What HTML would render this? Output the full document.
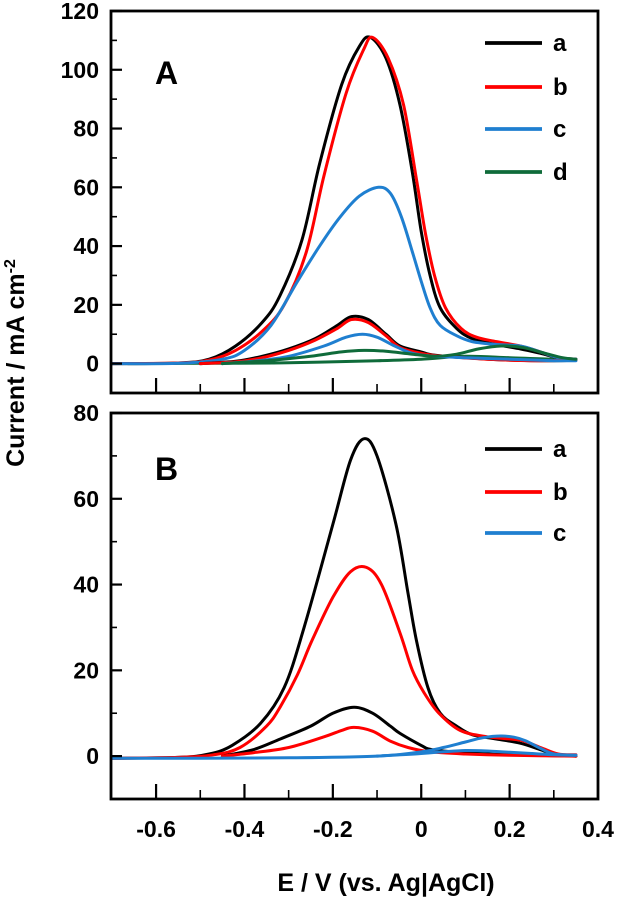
<!DOCTYPE html>
<html><head><meta charset="utf-8"><style>
html,body{margin:0;padding:0;background:#fff;}
svg{display:block;font-family:"Liberation Sans",Arial,sans-serif;font-weight:bold;}
</style></head><body>
<svg id="chart" width="618" height="897" viewBox="0 0 618 897" xmlns="http://www.w3.org/2000/svg"></svg>
<script>
// ---- data ----
const xTicksMajor = [-0.6,-0.4,-0.2,0,0.2];
const xTickLabels = ["-0.6","-0.4","-0.2","0","0.2","0.4"];
const xTickLabelValues = [-0.6,-0.4,-0.2,0,0.2,0.4];
const xTicksMinor = [-0.5,-0.3,-0.1,0.1,0.3];
const yTicksA = [0,20,40,60,80,100,120];
const yMinorA = [10,30,50,70,90,110];
const yTicksB = [0,20,40,60,80];
const yMinorB = [10,30,50,70];

// Panel A series (E in V, I in mA cm-2)
const aBigE = [-0.70,-0.55,-0.48,-0.42,-0.36,-0.32,-0.27,-0.23,-0.18,-0.14,-0.115,-0.08,-0.048,-0.02,0.0,0.02,0.043,0.08,0.115,0.17,0.224,0.27,0.31,0.35];
const aBigI = [0,0.2,1.5,6,14,23,42,68,95,108,111,104,88,65,45,30,19,12,8.5,6.5,5,3.5,2,1.5];
const aSmallE = [-0.50,-0.42,-0.36,-0.3,-0.24,-0.19,-0.158,-0.12,-0.08,-0.048,0.0,0.025,0.1,0.2,0.3,0.35];
const aSmallI = [0,0.8,2.5,5,8.5,13,16,15,10,6,4,3,2,1.2,1,1.2];
const bBigE = [-0.70,-0.55,-0.48,-0.42,-0.36,-0.31,-0.26,-0.22,-0.17,-0.13,-0.11,-0.075,-0.04,-0.01,0.01,0.03,0.055,0.09,0.125,0.17,0.224,0.27,0.31,0.35];
const bBigI = [0,0.2,1.2,4.5,11,20,38,64,92,107,111,104,88,62,44,30,19,12,9,7.5,6,4,2,1.5];
const bSmallE = [-0.50,-0.42,-0.36,-0.3,-0.24,-0.19,-0.158,-0.12,-0.08,-0.048,0.0,0.05,0.15,0.25,0.35];
const bSmallI = [0,0.6,2,4.5,8,12,15,14,9.5,5.5,3.5,2.5,1.5,1,1.2];
const cBigE = [-0.70,-0.55,-0.45,-0.40,-0.34,-0.28,-0.23,-0.183,-0.14,-0.097,-0.07,-0.045,-0.02,0.0,0.02,0.043,0.08,0.115,0.17,0.224,0.27,0.31,0.35];
const cBigI = [0,0.1,1.5,4.5,13,28,40,50,57,60,58,50,38,28,19,13,9.5,7.5,6.5,6,4,2,1.5];
const cSmallE = [-0.45,-0.38,-0.3,-0.22,-0.17,-0.133,-0.1,-0.06,-0.02,0.03,0.1,0.2,0.3,0.35];
const cSmallI = [0,0.8,2.5,6,9,10,9,6,3.5,2.5,2,1.5,1,1];
const dLoopE = [-0.45,-0.35,-0.25,-0.18,-0.13,-0.08,-0.02,0.034,0.08,0.13,0.18,0.23,0.28,0.32,0.35];
const dLoopI = [0,1,2.5,4,4.5,4.2,3.2,2.5,3.2,5,6,5.5,3.5,2,1.5];
const dBaseE = [-0.70,-0.5,-0.3,-0.1,0.0,0.1,0.2,0.3,0.35];
const dBaseI = [0,0.1,0.3,1,1.5,2.5,2,1.5,1.5];

// Panel B series
const baBigE = [-0.70,-0.55,-0.48,-0.428,-0.364,-0.31,-0.265,-0.2,-0.16,-0.129,-0.1,-0.057,-0.03,-0.011,0.015,0.043,0.08,0.115,0.17,0.224,0.27,0.3,0.35];
const baBigI = [-0.5,-0.3,0.5,2.5,7.6,16,30,54,69,74,70,54,38,27,16,10,7,5,4,3,1.5,0.5,0];
const bbBigE = [-0.70,-0.55,-0.47,-0.41,-0.35,-0.319,-0.28,-0.247,-0.2,-0.16,-0.124,-0.09,-0.048,-0.02,0.007,0.04,0.088,0.15,0.224,0.27,0.31,0.35];
const bbBigI = [-0.5,-0.3,0.3,2,7,11.5,19,27,37,43,44,40,28.7,20,14.7,10,6,4.5,3.7,2,0.5,0.3];
const baSmallE = [-0.45,-0.38,-0.319,-0.25,-0.2,-0.152,-0.11,-0.07,-0.048,0.0,0.025,0.1,0.2,0.35];
const baSmallI = [0,1.5,4,7,10,11.4,10,7,5.3,2.5,1.5,0.8,0.3,0];
const bbSmallE = [-0.45,-0.38,-0.3,-0.22,-0.18,-0.152,-0.11,-0.07,-0.03,0.02,0.1,0.2,0.35];
const bbSmallI = [0,0.8,2,4.5,6,6.7,5.8,3.5,2,1,0.5,0.2,0];
const bcFwdE = [-0.70,-0.5,-0.3,-0.1,0.0,0.05,0.1,0.14,0.18,0.21,0.236,0.27,0.3,0.35];
const bcFwdI = [-0.5,-0.5,-0.4,0,1,2,3.3,4.3,4.7,4.4,3.6,1.8,0.5,0.2];
const bcRevE = [-0.1,0.0,0.05,0.1,0.15,0.2,0.25,0.3,0.35];
const bcRevI = [0,0.6,1,1.3,1.2,0.9,0.6,0.3,0.2];

// ---- layout ----
const svg = document.getElementById('chart');
const NS = 'http://www.w3.org/2000/svg';
const X0 = 111, X1 = 598, XMIN = -0.702, XMAX = 0.4;
const xs = v => X0 + (v - XMIN) / (XMAX - XMIN) * (X1 - X0);
const panels = {
  A: {top: 11, bot: 393, ymin: -10, ymax: 120},
  B: {top: 413, bot: 799, ymin: -10, ymax: 80}
};
function ysFor(p){ return v => p.bot - (v - p.ymin) / (p.ymax - p.ymin) * (p.bot - p.top); }

function mk(tag, attrs, parent){
  const e = document.createElementNS(NS, tag);
  for (const k in attrs) e.setAttribute(k, attrs[k]);
  (parent || svg).appendChild(e);
  return e;
}
function pathFrom(E, I, ys){
  const pts = E.map((e,i)=>[xs(e), ys(I[i])]);
  let d = 'M' + pts[0][0].toFixed(1) + ',' + pts[0][1].toFixed(1);
  for (let i=0;i<pts.length-1;i++){
    const p0 = pts[i-1]||pts[i], p1 = pts[i], p2 = pts[i+1], p3 = pts[i+2]||p2;
    const c1x = p1[0]+(p2[0]-p0[0])/6, c1y = p1[1]+(p2[1]-p0[1])/6;
    const c2x = p2[0]-(p3[0]-p1[0])/6, c2y = p2[1]-(p3[1]-p1[1])/6;
    d += ' C'+c1x.toFixed(1)+','+c1y.toFixed(1)+' '+c2x.toFixed(1)+','+c2y.toFixed(1)+' '+p2[0].toFixed(1)+','+p2[1].toFixed(1);
  }
  return d;
}

function drawPanel(key, yTicks, yMinor, series, legend, letter, letterY, legendYs){
  const p = panels[key];
  const ys = ysFor(p);
  const g = mk('g', {});
  
  
  series.forEach(s => {
    const el = mk('path', {d: pathFrom(s.E, s.I, ys), fill:'none', stroke:s.c, 'stroke-width':3, 'stroke-linejoin':'round', 'stroke-linecap':'round'}, g);
    
    
  });
  const fr = mk('rect', {x:X0, y:p.top, width:X1-X0, height:p.bot-p.top, fill:'none', stroke:'#000', 'stroke-width':2.8}, g);
  
  
  yTicks.forEach(v => {
    const y = ys(v);
    const t = mk('line', {x1:X0, x2:X0+11, y1:y, y2:y, stroke:'#000', 'stroke-width':2.2}, g);
    
    
    const lb = mk('text', {x:X0-12, y:y+8, 'text-anchor':'end', 'font-size':23}, g);
    lb.textContent = String(v);
    
    
  });
  yMinor.forEach(v => {
    const y = ys(v);
    const t = mk('line', {x1:X0, x2:X0+6, y1:y, y2:y, stroke:'#000', 'stroke-width':1.6}, g);
    
    
  });
  xTicksMajor.forEach(v => {
    const x = xs(v);
    const t = mk('line', {x1:x, x2:x, y1:p.bot, y2:p.bot-15, stroke:'#000', 'stroke-width':2.2}, g);
    
    
  });
  xTicksMinor.forEach(v => {
    const x = xs(v);
    const t = mk('line', {x1:x, x2:x, y1:p.bot, y2:p.bot-9, stroke:'#000', 'stroke-width':1.6}, g);
    
    
  });
  const L = mk('text', {x:155, y:letterY, 'text-anchor':'start', 'font-size':32}, g);
  L.textContent = letter;
  
  
  legend.forEach((it, i) => {
    const ly = legendYs[i];
    const ln = mk('line', {x1:485, x2:542, y1:ly, y2:ly, stroke:it.c, 'stroke-width':3.8}, g);
    
    
    const tx = mk('text', {x:553, y:ly+8, 'font-size':24}, g);
    tx.textContent = it.t;
    
    
  });
}

const K='#000', R='#ff0000', Bl='#1f7fd0', G='#0f6b3a';
drawPanel('A', yTicksA, yMinorA, [
  {E:dBaseE, I:dBaseI, c:G, name:'series-d-baseline'},
  {E:aBigE, I:aBigI, c:K, name:'series-a-main'},
  {E:bBigE, I:bBigI, c:R, name:'series-b-main'},
  {E:cBigE, I:cBigI, c:Bl, name:'series-c-main'},
  {E:aSmallE, I:aSmallI, c:K, name:'series-a-return'},
  {E:bSmallE, I:bSmallI, c:R, name:'series-b-return'},
  {E:cSmallE, I:cSmallI, c:Bl, name:'series-c-return'},
  {E:dLoopE, I:dLoopI, c:G, name:'series-d-main'}
], [{t:'a',c:K},{t:'b',c:R},{t:'c',c:Bl},{t:'d',c:G}], 'A', 84, [43,87,129,172]);

drawPanel('B', yTicksB, yMinorB, [
  {E:baBigE, I:baBigI, c:K, name:'series-a-main'},
  {E:bbBigE, I:bbBigI, c:R, name:'series-b-main'},
  {E:baSmallE, I:baSmallI, c:K, name:'series-a-return'},
  {E:bbSmallE, I:bbSmallI, c:R, name:'series-b-return'},
  {E:bcRevE, I:bcRevI, c:Bl, name:'series-c-return'},
  {E:bcFwdE, I:bcFwdI, c:Bl, name:'series-c-main'}
], [{t:'a',c:K},{t:'b',c:R},{t:'c',c:Bl}], 'B', 480, [449,492,533]);

xTickLabelValues.forEach((v,i) => {
  const t = mk('text', {x:xs(v), y:837, 'text-anchor':'middle', 'font-size':23});
  t.textContent = xTickLabels[i];
  
  
});
const xt = mk('text', {x:386, y:891, 'text-anchor':'middle', 'font-size':25});
xt.textContent = 'E / V (vs. Ag|AgCl)';


const yt = mk('text', {x:0, y:0, 'text-anchor':'middle', 'font-size':25, transform:'translate(24,363) rotate(-90)'});
yt.innerHTML = 'Current / mA cm<tspan dy="-9" font-size="16">-2</tspan>';


</script>
</body></html>
